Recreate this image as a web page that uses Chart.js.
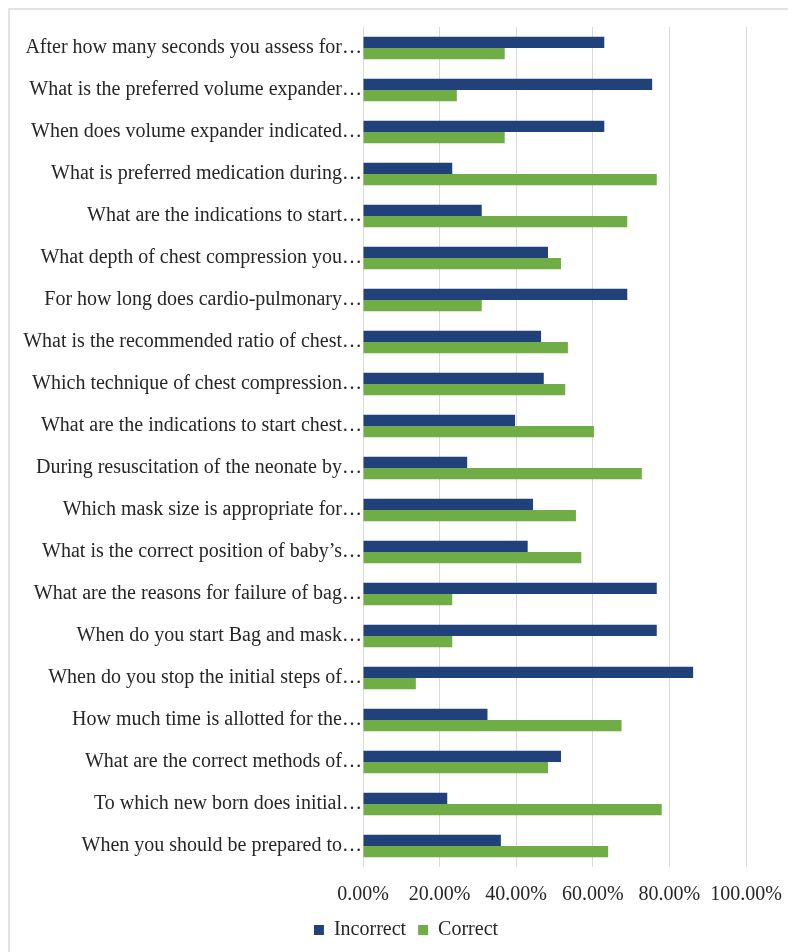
<!DOCTYPE html>
<html>
<head>
<meta charset="utf-8">
<script src="https://cdn.jsdelivr.net/npm/chart.js@4"></script>
<style>
  html, body { margin: 0; padding: 0; background: #fff; overflow: hidden; }
  #wrap { position: relative; width: 788px; height: 952px; }
  #frame { position: absolute; left: 8px; top: 8px; width: 800px; height: 960px;
           border-top: 2px solid #e3e3e3; border-left: 2px solid #e3e3e3; box-sizing: border-box; }
  canvas { position: absolute; left: 0; top: 0; }
</style>
</head>
<body>
<div id="wrap">
  <div id="frame"></div>
  <canvas id="chart" width="788" height="952"></canvas>
</div>
<script>
// question labels, top to bottom (already cut short in the source)
const categories = [
  "After how many seconds you assess for…",
  "What is the preferred volume expander…",
  "When does volume expander indicated…",
  "What is preferred medication during…",
  "What are the indications to start…",
  "What depth of chest compression you…",
  "For how long does cardio-pulmonary…",
  "What is the recommended ratio of chest…",
  "Which technique of chest compression…",
  "What are the indications to start chest…",
  "During resuscitation of the neonate by…",
  "Which mask size is appropriate for…",
  "What is the correct position of baby’s…",
  "What are the reasons for failure of bag…",
  "When do you start Bag and mask…",
  "When do you stop the initial steps of…",
  "How much time is allotted for the…",
  "What are the correct methods of…",
  "To which new born does initial…",
  "When you should be prepared to…"
];

// percent of answers
const incorrect = [63, 75.5, 63, 23.3, 31, 48.3, 69, 46.5, 47.2, 39.7, 27.2, 44.4, 43, 76.7, 76.7, 86.2, 32.5, 51.7, 22, 36];
const correct   = [37, 24.5, 37, 76.7, 69, 51.7, 31, 53.5, 52.8, 60.3, 72.8, 55.6, 57, 23.3, 23.3, 13.8, 67.5, 48.3, 78, 64];

const xTicks = [0, 20, 40, 60, 80, 100];

const FONT = { family: '"Liberation Serif", "Times New Roman", serif', size: 20 };

function $(id){return document.getElementById(id)}

// legend sits centred under the whole frame, not under labels+plot
const shiftLegend = {
  id: 'shiftLegend',
  afterLayout(chart){
    chart.legend.left += 23;
    chart.legend.right += 23;
  }
};

new Chart($('chart'), {
  type: 'bar',
  data: {
    labels: categories,
    datasets: [
      { label: 'Incorrect', data: incorrect, backgroundColor: '#21417a' },
      { label: 'Correct', data: correct, backgroundColor: '#70ad47' }
    ]
  },
  plugins: [shiftLegend],
  options: {
    indexAxis: 'y',
    responsive: false,
    animation: false,
    layout: { padding: { left: 20, right: 42, top: 27, bottom: 2 } },
    datasets: { bar: { categoryPercentage: 0.54, barPercentage: 1 } },
    scales: {
      x: {
        min: 0, max: 100,
        afterBuildTicks: s => { s.ticks = xTicks.map(v => ({ value: v })); },
        afterFit: s => { s.height = 41; s.paddingLeft = 0; s.paddingRight = 0; },
        border: { display: false },
        grid: { color: '#d9d9d9', lineWidth: 1, drawTicks: false },
        ticks: { color: '#262626', font: FONT, padding: 16, maxRotation: 0, minRotation: 0,
                 autoSkip: false, callback: v => v.toFixed(2) + '%' }
      },
      y: {
        afterFit: s => { s.width = 343; },
        border: { display: false },
        grid: { display: false, drawTicks: false },
        ticks: { color: '#262626', font: FONT, padding: 1, autoSkip: false }
      }
    },
    plugins: {
      legend: {
        position: 'bottom',
        labels: { color: '#262626', font: FONT, boxWidth: 10, boxHeight: 10, padding: 12 }
      },
      tooltip: { enabled: false }
    }
  }
});
</script>
</body>
</html>
